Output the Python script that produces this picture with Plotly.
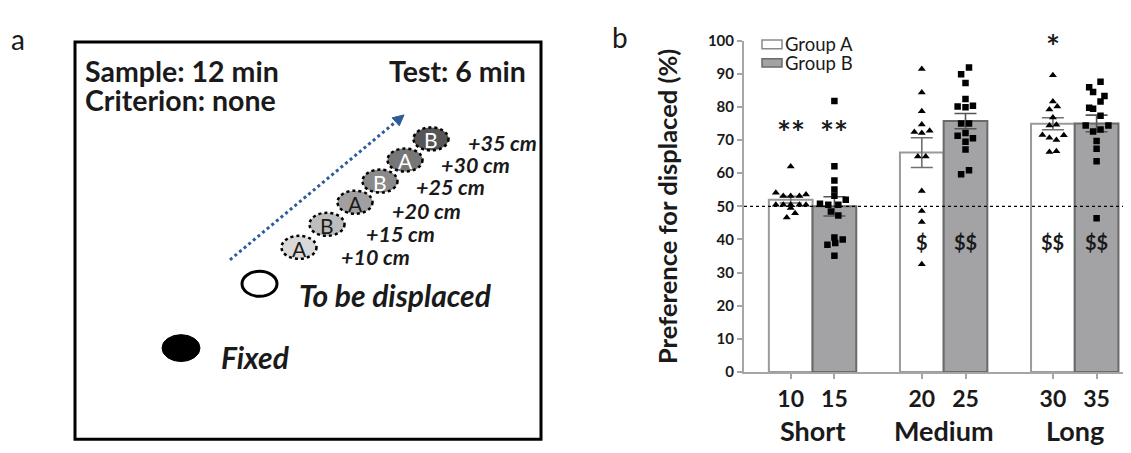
import plotly.graph_objects as go

# ---------------- data (panel b) ----------------
distances = ["10", "15", "20", "25", "30", "35"]
ranges = ["Short", "Medium", "Long"]
slot_pos = [0, 1, 3, 4, 6, 7]          # category slots on the x axis
range_pos = [0.5, 3.5, 6.5]

group_a_mean = [52.0, 66.2, 74.9]
group_a_sem = [1.0, 4.5, 1.8]
group_b_mean = [50.0, 75.7, 75.0]
group_b_sem = [2.9, 2.3, 2.5]

a_short = [62.0, 54.1, 53.1, 53.1, 53.1, 53.6, 50.5, 50.5, 50.5, 50.5, 50.5, 49.5, 47.9, 46.6]
a_short_jit = [0, -0.34, -0.17, 0, 0.2, 0.35, -0.34, -0.17, 0, 0.2, 0.35, 0, 0.1, -0.09]
a_medium = [91.4, 84.3, 78.7, 74.7, 72.4, 72.1, 72.8, 65.0, 65.0, 54.6, 48.6, 45.3, 32.5]
a_medium_jit = [0, 0, 0, 0, -0.17, 0, 0.18, -0.09, 0.09, 0, 0, 0, 0]
a_long = [89.5, 81.6, 79.2, 80.1, 76.8, 74.4, 74.6, 71.5, 70.7, 70.0, 71.4, 66.4, 66.6]
a_long_jit = [0, 0, -0.08, 0.1, 0, -0.08, 0.08, -0.24, -0.08, 0.08, 0.25, -0.08, 0.08]

b_short = [81.8, 62.1, 57.8, 55.1, 53.2, 52.0, 50.8, 50.5, 50.5, 48.4, 47.2, 40.6, 40.0, 38.9, 38.4, 35.1]
b_short_jit = [0, 0, 0, 0, 0, 0.26, -0.33, -0.14, 0.09, -0.08, 0.09, 0, 0.19, 0.02, -0.16, 0]
b_medium = [91.9, 89.8, 87.2, 82.4, 80.1, 79.9, 80.3, 75.0, 75.0, 71.3, 72.1, 70.5, 69.5, 67.1, 59.7, 60.9]
b_medium_jit = [0.08, -0.1, 0, 0, -0.18, 0, 0.17, -0.1, 0.08, -0.18, 0, 0.17, 0, 0, -0.1, 0.08]
b_long = [87.6, 85.9, 84.5, 83.3, 81.6, 79.7, 79.4, 77.3, 74.4, 74.4, 73.2, 72.6, 69.7, 67.4, 63.6, 46.4]
b_long_jit = [0.09, -0.17, -0.08, 0.18, 0.09, -0.17, -0.08, 0.09, -0.25, 0.27, 0.09, -0.08, 0, 0, 0, 0]

star_labels = ["**", "**", "*"]
star_slots = [0, 1, 6]
star_y = [72.4, 72.4, 98.4]
dollar_labels = ["$", "$$", "$$", "$$"]
dollar_slots = [3, 4, 6, 7]
dollar_y = [39.2, 39.2, 39.2, 39.2]

# ---------------- data (panel a) ----------------
offset_labels = ["+10 cm", "+15 cm", "+20 cm", "+25 cm", "+30 cm", "+35 cm"]
object_letters = ["A", "B", "A", "B", "A", "B"]

# ---------------- style ----------------
FONT = "Lato"
W, H = 1131, 453           # reference picture size
OFF = 8                    # page body margin of the browser
FW, FH = W - OFF, H - OFF  # figure size so that it fits the window
AXIS_GREY = "#a6a6a6"
B_FILL = "#a3a3a6"
B_LINE = "#6a6a6a"
INK = "#1a1a1a"

def fx(px):   # picture x pixel -> paper fraction
    return (px - OFF) / FW

def fy(py):   # picture y pixel -> paper fraction
    return 1 - (py - OFF) / FH

a_slots = [slot_pos[0], slot_pos[2], slot_pos[4]]
b_slots = [slot_pos[1], slot_pos[3], slot_pos[5]]

fig = go.Figure()

fig.add_trace(go.Bar(
    x=a_slots, y=group_a_mean, width=1.0, name="Group A",
    marker=dict(color="white", line=dict(color="#9a9a9a", width=2)),
    error_y=dict(type="data", array=group_a_sem, color="#707070", thickness=1.6, width=11),
    showlegend=False, hoverinfo="skip"))
fig.add_trace(go.Bar(
    x=b_slots, y=group_b_mean, width=1.0, name="Group B",
    marker=dict(color=B_FILL, line=dict(color=B_LINE, width=2)),
    error_y=dict(type="data", array=group_b_sem, color="#555555", thickness=1.6, width=11),
    showlegend=False, hoverinfo="skip"))

ax, ay = [], []
for s, v, j in zip(a_slots, [a_short, a_medium, a_long], [a_short_jit, a_medium_jit, a_long_jit]):
    ax += [s + d for d in j]
    ay += v
bx, by = [], []
for s, v, j in zip(b_slots, [b_short, b_medium, b_long], [b_short_jit, b_medium_jit, b_long_jit]):
    bx += [s + d for d in j]
    by += v

fig.add_trace(go.Scatter(x=ax, y=ay, mode="markers",
                         marker=dict(symbol="triangle-up", size=7, color="black"),
                         showlegend=False, hoverinfo="skip"))
fig.add_trace(go.Scatter(x=bx, y=by, mode="markers",
                         marker=dict(symbol="square", size=6.5, color="black"),
                         showlegend=False, hoverinfo="skip"))

# invisible trace for the pixel-space overlay axes
fig.add_trace(go.Scatter(x=[OFF], y=[OFF], xaxis="x2", yaxis="y2", mode="markers",
                         marker=dict(opacity=0), showlegend=False, hoverinfo="skip"))

x_left_px = 744
slot_px = 43.7
x0_slot = -(790.7 - x_left_px) / slot_px
x1_slot = x0_slot + (W - x_left_px) / slot_px

fig.update_layout(
    width=FW, height=FH,
    margin=dict(l=0, r=0, t=0, b=0),
    paper_bgcolor="white", plot_bgcolor="rgba(0,0,0,0)",
    barmode="overlay",
    font=dict(family=FONT, color=INK),
    xaxis=dict(domain=[fx(x_left_px), 1.0], range=[x0_slot, x1_slot],
               tickmode="array", tickvals=slot_pos, ticktext=distances,
               ticks="outside", ticklen=5, tickwidth=1.5, tickcolor=AXIS_GREY,
               tickfont=dict(family=FONT, size=23, weight="bold", color=INK),
               showline=True, linecolor=AXIS_GREY, linewidth=2,
               showgrid=False, zeroline=False, fixedrange=True, anchor="y"),
    yaxis=dict(domain=[fy(377), fy(31.5)], range=[0, 100],
               tickmode="array", tickvals=list(range(0, 101, 10)),
               ticks="outside", ticklen=5, tickwidth=1.5, tickcolor=AXIS_GREY,
               tickfont=dict(family=FONT, size=15, weight="bold", color=INK),
               showline=True, linecolor=AXIS_GREY, linewidth=2,
               showgrid=False, zeroline=False, fixedrange=True, anchor="x"),
    xaxis2=dict(domain=[0, 1], range=[OFF, W], visible=False, fixedrange=True, anchor="y2"),
    yaxis2=dict(domain=[0, 1], range=[H, OFF], visible=False, fixedrange=True, anchor="x2"),
)

shapes = []
ann = []

# dotted 50% reference line
shapes.append(dict(type="line", xref="x", yref="y", x0=x0_slot, x1=x1_slot, y0=50, y1=50,
                   line=dict(color="black", width=1.2, dash="dot"), layer="above"))

# significance marks
for t, s, yv in zip(star_labels, star_slots, star_y):
    ann.append(dict(x=s, y=yv, xref="x", yref="y", text=t, showarrow=False,
                    font=dict(family=FONT, size=33, weight="bold", color=INK),
                    xanchor="center", yanchor="middle"))
for t, s, yv in zip(dollar_labels, dollar_slots, dollar_y):
    ann.append(dict(x=s, y=yv, xref="x", yref="y", text=t, showarrow=False,
                    font=dict(family=FONT, size=20, weight="bold", color=INK),
                    xanchor="center", yanchor="middle"))

# range labels under the axis
for t, p in zip(ranges, range_pos):
    ann.append(dict(x=p, y=438, xref="x", yref="y2", text=t, showarrow=False,
                    font=dict(family=FONT, size=27, weight="bold", color=INK),
                    xanchor="center", yanchor="middle"))

# y-axis title
ann.append(dict(x=667, y=205, xref="x2", yref="y2", text="Preference for displaced (%)",
                textangle=-90, showarrow=False,
                font=dict(family=FONT, size=25.5, weight="bold", color=INK),
                xanchor="center", yanchor="middle"))

# legend
shapes.append(dict(type="rect", xref="x2", yref="y2", x0=762, x1=782, y0=31, y1=40,
                   fillcolor="white", line=dict(color="#8a8a8a", width=1.5)))
shapes.append(dict(type="rect", xref="x2", yref="y2", x0=762, x1=782, y0=50.5, y1=59,
                   fillcolor=B_FILL, line=dict(color=B_LINE, width=1.5)))
ann.append(dict(x=783, y=35.5, xref="x2", yref="y2", text="Group A", showarrow=False,
                font=dict(family=FONT, size=18.5, color=INK), xanchor="left", yanchor="middle"))
ann.append(dict(x=783, y=55, xref="x2", yref="y2", text="Group B", showarrow=False,
                font=dict(family=FONT, size=18.5, color=INK), xanchor="left", yanchor="middle"))

# panel letters
ann.append(dict(x=18, y=30, xref="x2", yref="y2", text="a", showarrow=False,
                font=dict(family=FONT, size=28, color=INK), xanchor="center", yanchor="middle"))
ann.append(dict(x=620, y=28, xref="x2", yref="y2", text="b", showarrow=False,
                font=dict(family=FONT, size=28, color=INK), xanchor="center", yanchor="middle"))

# ---------------- panel a diagram ----------------
shapes.append(dict(type="rect", xref="x2", yref="y2", x0=75, x1=541, y0=33, y1=447,
                   line=dict(color="black", width=3), fillcolor="rgba(0,0,0,0)"))
bold = dict(family=FONT, size=28.5, weight="bold", color=INK)
ann.append(dict(x=83, y=63, xref="x2", yref="y2", text="Sample: 12 min", showarrow=False,
                font=bold, xanchor="left", yanchor="middle"))
ann.append(dict(x=528, y=63, xref="x2", yref="y2", text="Test: 6 min", showarrow=False,
                font=bold, xanchor="right", yanchor="middle"))
ann.append(dict(x=83, y=93, xref="x2", yref="y2", text="Criterion: none", showarrow=False,
                font=bold, xanchor="left", yanchor="middle"))

ital = dict(family=FONT, size=30, weight="bold", style="italic", color=INK)
# fixed object
shapes.append(dict(type="circle", xref="x2", yref="y2", x0=162, x1=200, y0=338, y1=366,
                   fillcolor="black", line=dict(color="black", width=1)))
ann.append(dict(x=219, y=361, xref="x2", yref="y2", text="Fixed", showarrow=False,
                font=ital, xanchor="left", yanchor="middle"))
# object to be displaced
shapes.append(dict(type="circle", xref="x2", yref="y2", x0=242, x1=277, y0=272, y1=298,
                   fillcolor="white", line=dict(color="black", width=3)))
ann.append(dict(x=297, y=297, xref="x2", yref="y2", text="To be displaced", showarrow=False,
                font=ital, xanchor="left", yanchor="middle"))

# displaced positions
centres = [(299, 247), (327, 223), (355, 200), (380, 178), (405, 156), (431, 134)]
fills = ["#d9d9d9", "#bdbdbd", "#a0a0a0", "#8a8a8a", "#767676", "#565656"]
letter_cols = [INK, INK, INK, "white", "white", "white"]
label_pos = [(339, 257), (364, 233), (390, 209), (414, 184), (439, 161), (466, 138)]
for (cx, cy), fc, lc, letter, lab, (lx, ly) in zip(centres, fills, letter_cols,
                                                   object_letters, offset_labels, label_pos):
    shapes.append(dict(type="circle", xref="x2", yref="y2", x0=cx - 17.5, x1=cx + 17.5,
                       y0=cy - 12, y1=cy + 12, fillcolor=fc,
                       line=dict(color="black", width=2.5, dash="dot")))
    ann.append(dict(x=cx, y=cy + 1, xref="x2", yref="y2", text=letter, showarrow=False,
                    font=dict(family=FONT, size=21, color=lc), xanchor="center", yanchor="middle"))
    ann.append(dict(x=lx, y=ly, xref="x2", yref="y2", text=lab, showarrow=False,
                    font=dict(family=FONT, size=21.5, weight="bold", style="italic", color=INK),
                    xanchor="left", yanchor="middle"))

# dotted blue arrow
sx, sy, tx, ty = 230, 260, 404, 109
dx, dy = tx - sx, ty - sy
ln = (dx ** 2 + dy ** 2) ** 0.5
ux, uy = dx / ln, dy / ln
px_, py_ = -uy, ux
hl, hw = 11, 5.5
bxm, bym = tx - hl * ux, ty - hl * uy
shapes.append(dict(type="line", xref="x2", yref="y2", x0=sx, y0=sy, x1=bxm, y1=bym,
                   line=dict(color="#2f5b98", width=3, dash="dot")))
shapes.append(dict(type="path", xref="x2", yref="y2",
                   path=f"M {tx} {ty} L {bxm + hw * px_} {bym + hw * py_} L {bxm - hw * px_} {bym - hw * py_} Z",
                   fillcolor="#2f5b98", line=dict(color="#2f5b98", width=1)))

fig.update_layout(shapes=shapes, annotations=ann)
fig.write_html("out.html")
